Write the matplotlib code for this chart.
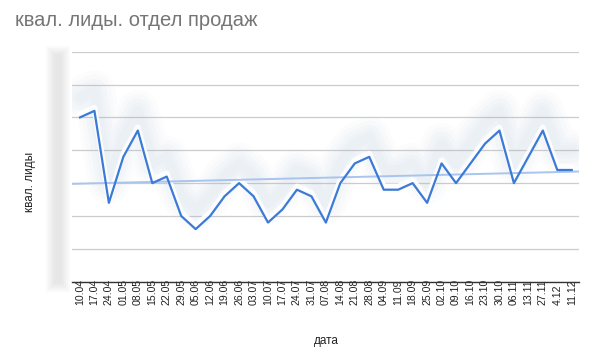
import numpy as np
import matplotlib
matplotlib.use("Agg")
import matplotlib.pyplot as plt
from matplotlib.patches import Rectangle

plt.rcParams['font.family'] = ['Liberation Sans', 'DejaVu Sans']

dates = ["10.04", "17.04", "24.04", "01.05", "08.05", "15.05", "22.05", "29.05",
         "05.06", "12.06", "19.06", "26.06", "03.07", "10.07", "17.07", "24.07",
         "31.07", "07.08", "14.08", "21.08", "28.08", "04.09", "11.09", "18.09",
         "25.09", "02.10", "09.10", "16.10", "23.10", "30.10", "06.11", "13.11",
         "27.11", "4.12", "11.12"]
leads = [25, 26, 12, 19, 23, 15, 16, 10, 8, 10, 13, 15, 13, 9, 11, 14, 13, 9,
         15, 18, 19, 14, 14, 15, 12, 18, 15, 18, 21, 23, 15, 19, 23, 17, 17]
y_ticks = [0, 5, 10, 15, 20, 25, 30, 35]

x = np.arange(len(dates))
y = np.array(leads, dtype=float)

fig = plt.figure(figsize=(5.94, 3.54), dpi=100)
W, H = 594, 354
ax = fig.add_axes([72 / W, 1 - 281.7 / H, (579 - 72) / W, (281.7 - 51.7) / H])

# grid
ax.set_ylim(y_ticks[0], y_ticks[-1])
ax.set_yticks(y_ticks)
ax.yaxis.grid(True, color='#cccccc', linewidth=0.9)
ax.set_axisbelow(True)
ax.tick_params(axis='y', length=0, labelleft=False)
for s in ['top', 'right', 'left']:
    ax.spines[s].set_visible(False)
ax.spines['bottom'].set_color('#333333')
ax.spines['bottom'].set_linewidth(1.0)
ax.set_xlim(-0.55, len(dates) - 0.5)

# blurred data-label haze above the line
for lw, a in [(30, 0.03), (24, 0.04), (18, 0.05), (12, 0.05), (7, 0.05)]:
    ax.plot(x, y + 3.0, color='#a9bfd6', linewidth=lw, alpha=a,
            solid_capstyle='round', solid_joinstyle='round', zorder=1)
ax.plot(x, y + 0.5, color='white', linewidth=4, alpha=0.9, zorder=2)

# trend line
k, b = np.polyfit(x, y, 1)
xl = np.array(ax.get_xlim())
ax.plot(xl, k * xl + b, color='#a9c4ee', linewidth=1.4, zorder=3)

# main line
ax.plot(x, y, color='#3b7ad6', linewidth=1.6, zorder=4)

ax.set_xticks(x)
ax.set_xticklabels(dates, rotation=90, fontsize=7.6, color='#222222',
                   va='bottom', ha='center')
ax.tick_params(axis='x', length=0, pad=16.8)

# blurred y-axis label strip (soft edges)
for i, a in enumerate([0.15, 0.2, 0.25, 0.3, 0.35]):
    fig.patches.append(Rectangle(((46 + 2 * i) / W, 1 - (292 - 2 * i) / H),
                                 (24 - 4 * i) / W, (292 - 46 - 4 * i) / H,
                                 transform=fig.transFigure,
                                 color='#e2e2e2', alpha=a, linewidth=0))

fig.text(15 / W, 1 - 20 / H, "квал. лиды. отдел продаж", fontsize=14.5,
         color='#757575', va='center', ha='left')
fig.text(30 / W, 1 - 182 / H, "квал. лиды", fontsize=8.5, color='#222222',
         rotation=90, va='center', ha='center')
fig.text(326 / W, 1 - 341 / H, "дата", fontsize=8.5, color='#222222',
         va='center', ha='center')

fig.savefig("out.png", dpi=100, facecolor='white')
